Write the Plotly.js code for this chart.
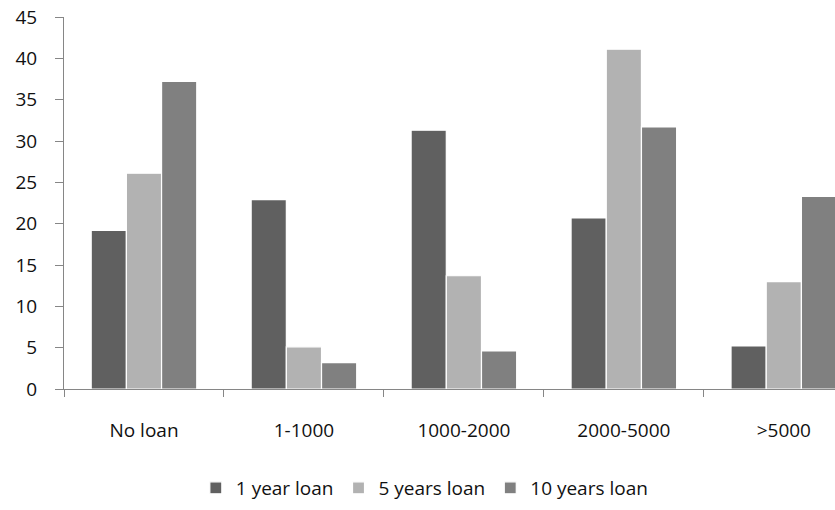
<!DOCTYPE html>
<html>
<head>
<meta charset="utf-8">
<script src="https://cdn.plot.ly/plotly-3.0.1.min.js"></script>
<style>html,body{margin:0;padding:0;background:#fff;overflow:hidden}</style>
</head>
<body>
<div id="chart" style="width:835px;height:510px"></div>
<script>
var categories = ["No loan", "1-1000", "1000-2000", "2000-5000", ">5000"];
var seriesNames = ["1 year loan", "5 years loan", "10 years loan"];
var oneYear = [19.2, 22.9, 31.3, 20.7, 5.2];
var fiveYears = [26.1, 5.1, 13.7, 41.1, 13.0];
var tenYears = [37.2, 3.2, 4.6, 31.7, 23.3];
var yTicks = [0, 5, 10, 15, 20, 25, 30, 35, 40, 45];

var colors = ["#606060", "#b2b2b2", "#808080"];
var values = [oneYear, fiveYears, tenYears];
var FONT = "Open Sans, sans-serif";
var TXT = "#111111";

var traces = values.map(function (v, i) {
  return {
    type: "bar",
    name: seriesNames[i],
    x: categories,
    y: v,
    marker: { color: colors[i], line: { color: "#ffffff", width: 1.2 } },
    hoverinfo: "x+y+name"
  };
});

var layout = {
  width: 835,
  height: 510,
  margin: { l: 64, r: 0, t: 17, b: 121 },
  paper_bgcolor: "#ffffff",
  plot_bgcolor: "#ffffff",
  barmode: "group",
  bargap: 0.34,
  bargroupgap: 0.0,
  showlegend: true,
  font: { family: FONT, size: 19, color: TXT },
  xaxis: {
    type: "category",
    range: [-0.5, 4.32],
    showline: true,
    linecolor: "#868686",
    linewidth: 1,
    ticks: "outside",
    tickson: "boundaries",
    ticklen: 7,
    tickcolor: "#868686",
    ticklabelstandoff: 24,
    showgrid: false,
    zeroline: false,
    tickfont: { family: FONT, size: 19, color: TXT }
  },
  yaxis: {
    range: [0, 45],
    tickvals: yTicks,
    showline: true,
    linecolor: "#868686",
    linewidth: 1,
    ticks: "outside",
    ticklen: 8,
    tickcolor: "#868686",
    ticklabelstandoff: 14,
    showgrid: false,
    zeroline: false,
    tickfont: { family: FONT, size: 19, color: TXT }
  },
  legend: {
    orientation: "h",
    x: 0.468,
    xanchor: "center",
    y: -0.266,
    yanchor: "middle",
    font: { family: FONT, size: 19, color: TXT },
    itemwidth: 30,
    traceorder: "normal",
    bgcolor: "rgba(0,0,0,0)"
  }
};

Plotly.newPlot("chart", traces, layout, { displayModeBar: false, staticPlot: true });
</script>
</body>
</html>
